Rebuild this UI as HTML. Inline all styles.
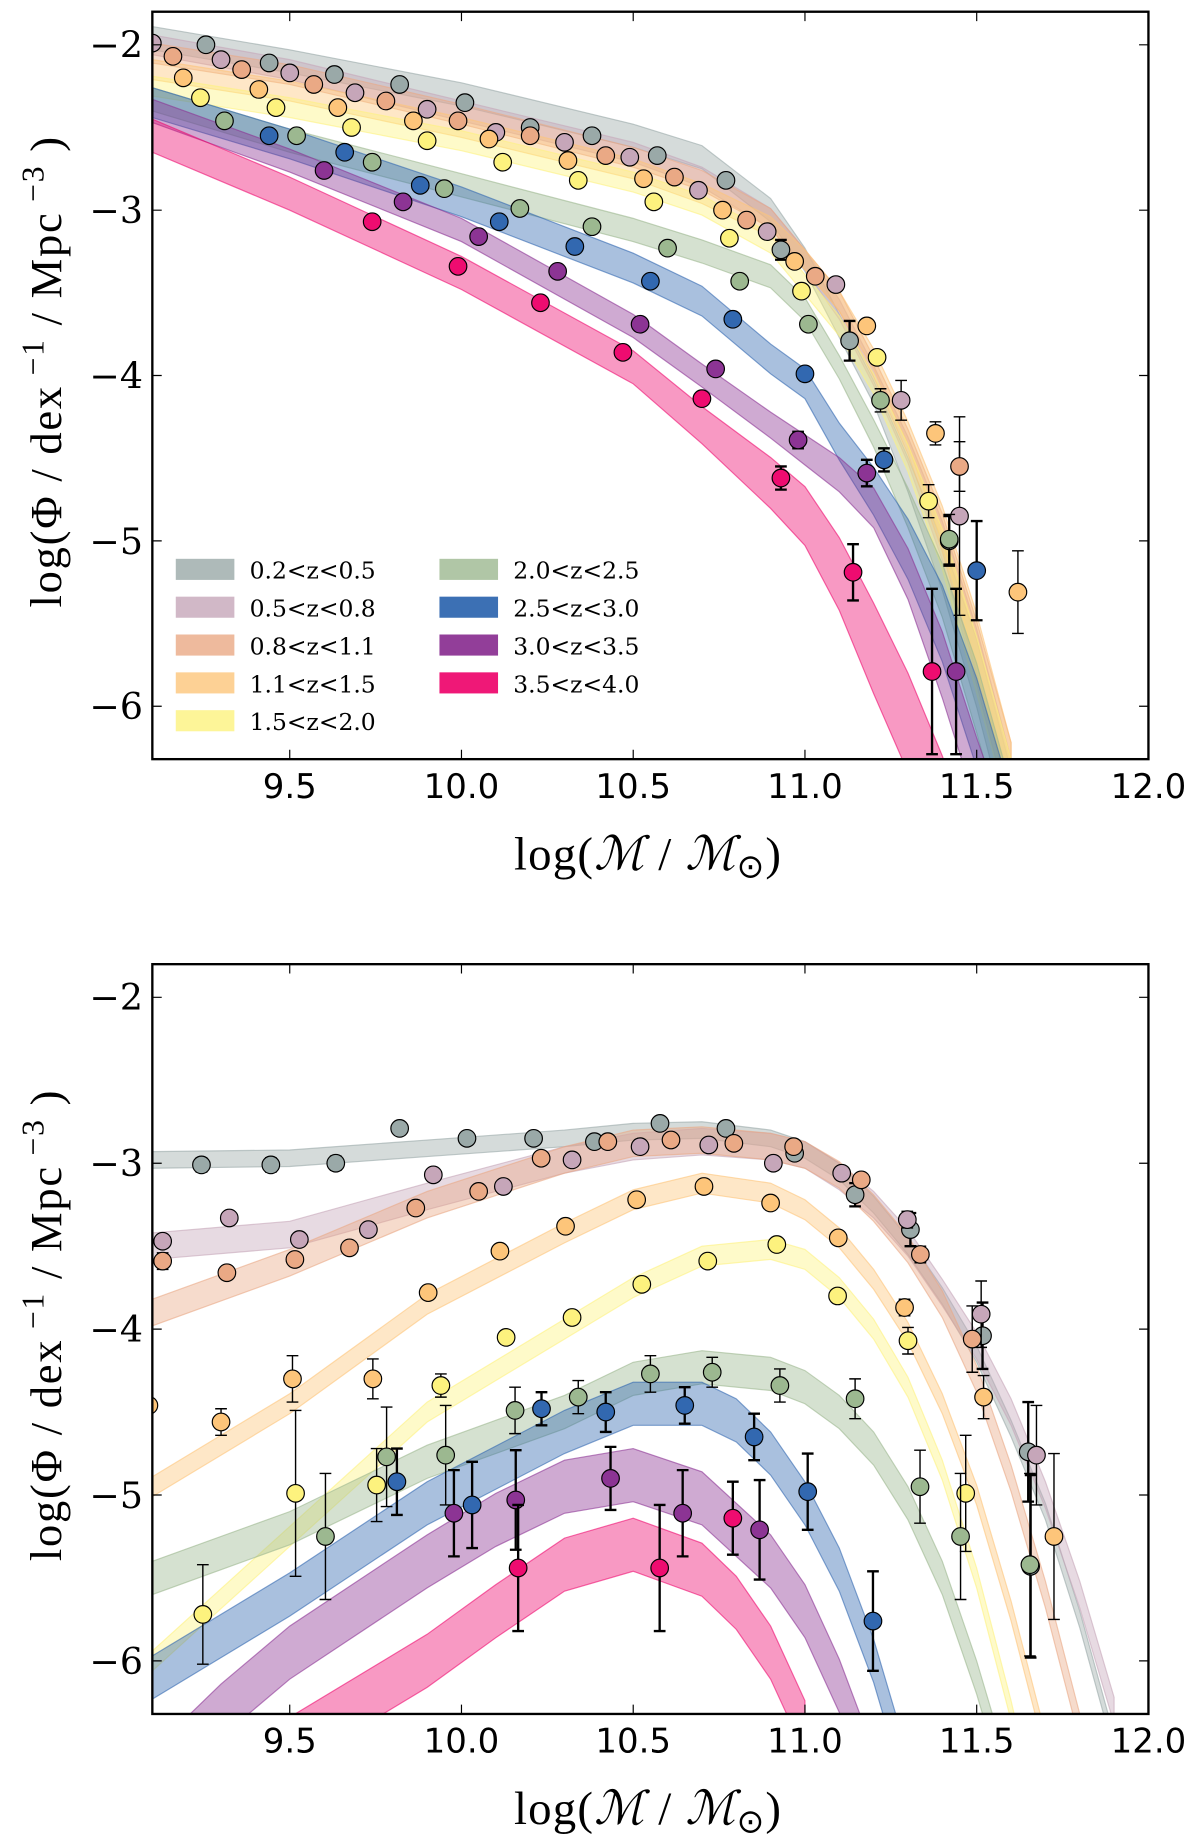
<!DOCTYPE html>
<html><head><meta charset="utf-8"><title>Stellar mass functions</title>
<style>html,body{margin:0;padding:0;background:#fff;}svg{display:block;}</style></head>
<body>
<svg id="fig" width="1200" height="1844" viewBox="0 0 1024 1574" preserveAspectRatio="none" xmlns="http://www.w3.org/2000/svg">
<defs>
<clipPath id="clipTop"><rect x="130" y="10" width="850" height="638"/></clipPath>
<clipPath id="clipBot"><rect x="130" y="823" width="850" height="640"/></clipPath>
</defs>
<g id="top"></g>
<g id="bot"></g>
</svg>
<script>
// ---------- shared ----------
const seriesLabels = ["0.2<z<0.5","0.5<z<0.8","0.8<z<1.1","1.1<z<1.5","1.5<z<2.0","2.0<z<2.5","2.5<z<3.0","3.0<z<3.5","3.5<z<4.0"];
const seriesColors = ["#9aa9a8","#c6a6b9","#eaa985","#fdc57a","#fdf27e","#9cb890","#3268b0","#8c3494","#ee0c70"];
const xTicks = [9.5,10.0,10.5,11.0,11.5,12.0];
const xTickLabels = ["9.5","10.0","10.5","11.0","11.5","12.0"];
const yTicks = [-2,-3,-4,-5,-6];
const yTickLabels = ["\u22122","\u22123","\u22124","\u22125","\u22126"];

// ---------- top panel data ----------
const topBandMass = [9.1,9.5,10.0,10.5,10.7,10.9,11.0,11.1,11.2,11.3,11.4,11.5,11.6];
const topBandMid = [
 [-1.96,-2.1,-2.3,-2.55,-2.68,-3.0,-3.3,-3.7,-4.1,-4.6,-5.15,-5.8,-6.6],
 [-2.0,-2.15,-2.4,-2.65,-2.8,-3.05,-3.3,-3.6,-4.0,-4.45,-5.0,-5.7,-6.5],
 [-2.05,-2.18,-2.42,-2.68,-2.82,-3.05,-3.3,-3.55,-3.95,-4.4,-4.95,-5.65,-6.4],
 [-2.15,-2.28,-2.5,-2.75,-2.9,-3.1,-3.3,-3.55,-3.9,-4.35,-4.9,-5.6,-6.4],
 [-2.25,-2.38,-2.58,-2.83,-2.97,-3.2,-3.45,-3.7,-4.05,-4.5,-5.05,-5.75,-6.5],
 [-2.33,-2.58,-2.85,-3.12,-3.25,-3.4,-3.6,-3.95,-4.35,-4.8,-5.3,-5.95,-6.7],
 [-2.35,-2.6,-2.95,-3.35,-3.55,-3.9,-4.05,-4.4,-4.7,-5.05,-5.5,-6.1,-6.8],
 [-2.4,-2.7,-3.12,-3.7,-4.0,-4.3,-4.45,-4.6,-4.8,-5.2,-5.75,-6.4,-7.0],
 [-2.55,-2.9,-3.38,-3.95,-4.3,-4.65,-4.85,-5.2,-5.65,-6.1,-6.6,-7.2,-7.8]];
const topBandHalf = [0.07,0.06,0.06,0.06,0.06,0.07,0.09,0.07,0.1];

const topPtsMass = [
 [9.256,9.44,9.63,9.82,10.01,10.2,10.38,10.57,10.77,10.93,11.13,11.42],
 [9.1,9.3,9.5,9.69,9.9,10.1,10.3,10.49,10.69,10.89,11.09,11.28,11.45],
 [9.16,9.36,9.57,9.78,9.99,10.2,10.42,10.62,10.83,11.03,11.45],
 [9.19,9.41,9.64,9.86,10.08,10.31,10.53,10.76,10.97,11.18,11.38,11.62],
 [9.24,9.46,9.68,9.9,10.12,10.34,10.56,10.78,10.99,11.21,11.36],
 [9.31,9.52,9.74,9.95,10.17,10.38,10.6,10.81,11.01,11.22,11.42],
 [9.44,9.66,9.88,10.11,10.33,10.55,10.79,11.0,11.23,11.5],
 [9.6,9.83,10.05,10.28,10.52,10.74,10.98,11.18,11.44],
 [9.74,9.99,10.23,10.47,10.7,10.93,11.14,11.37]];
const topPtsPhi = [
 [-2.0,-2.11,-2.18,-2.24,-2.35,-2.5,-2.55,-2.67,-2.82,-3.24,-3.79,-5.0],
 [-1.99,-2.09,-2.17,-2.29,-2.39,-2.53,-2.59,-2.68,-2.88,-3.13,-3.45,-4.15,-4.85],
 [-2.07,-2.15,-2.24,-2.34,-2.46,-2.55,-2.67,-2.8,-3.06,-3.4,-4.55],
 [-2.2,-2.27,-2.38,-2.46,-2.57,-2.7,-2.81,-3.0,-3.31,-3.7,-4.35,-5.31],
 [-2.32,-2.38,-2.5,-2.58,-2.71,-2.82,-2.95,-3.17,-3.49,-3.89,-4.76],
 [-2.46,-2.55,-2.71,-2.87,-2.99,-3.1,-3.23,-3.43,-3.69,-4.15,-4.99],
 [-2.55,-2.65,-2.85,-3.07,-3.22,-3.43,-3.66,-3.99,-4.51,-5.18],
 [-2.76,-2.95,-3.16,-3.37,-3.69,-3.96,-4.39,-4.59,-5.79],
 [-3.07,-3.34,-3.56,-3.86,-4.14,-4.62,-5.19,-5.79]];
const topPtsErr = [
 [0,0,0,0,0,0,0,0,0,0.06,0.12,0.15],
 [0,0,0,0,0,0,0,0,0,0,0.04,0.12,0.6],
 [0,0,0,0,0,0,0,0,0,0,0.15],
 [0,0,0,0,0,0,0,0,0,0,0.07,0.25],
 [0,0,0,0,0,0,0,0,0,0.04,0.1],
 [0,0,0,0,0,0,0,0,0,0.07,0.15],
 [0,0,0,0,0,0,0,0.03,0.07,0.3],
 [0,0,0,0,0,0.03,0.05,0.08,0.5],
 [0,0,0,0,0,0.07,0.17,0.5]];

// ---------- bottom panel data ----------
const botBandMass = [
 [9.1,9.5,9.9,10.3,10.5,10.7,10.9,11.0,11.1,11.2,11.3,11.4,11.5,11.6,11.7,11.8,11.9],
 [9.1,9.5,9.9,10.3,10.5,10.7,10.9,11.0,11.1,11.2,11.3,11.4,11.5,11.6,11.7,11.8,11.9],
 [9.1,9.5,9.9,10.3,10.5,10.7,10.9,11.0,11.1,11.2,11.3,11.4,11.5,11.6,11.7,11.8,11.9],
 [9.1,9.5,9.9,10.3,10.5,10.7,10.9,11.0,11.1,11.2,11.3,11.4,11.5,11.6,11.7,11.8],
 [9.1,9.5,9.9,10.3,10.5,10.7,10.9,11.0,11.1,11.2,11.3,11.4,11.5,11.6,11.7],
 [9.1,9.5,9.9,10.3,10.5,10.7,10.9,11.0,11.1,11.2,11.3,11.4,11.5,11.6],
 [9.1,9.5,9.9,10.3,10.5,10.7,10.8,10.9,11.0,11.1,11.2,11.3],
 [9.1,9.3,9.5,9.9,10.1,10.3,10.5,10.7,10.9,11.0,11.1,11.2],
 [9.3,9.5,9.9,10.1,10.3,10.5,10.7,10.8,10.9,11.0]];
const botBandMid = [
 [-2.98,-2.97,-2.91,-2.85,-2.81,-2.8,-2.85,-2.92,-3.05,-3.25,-3.5,-3.8,-4.15,-4.6,-5.1,-5.75,-6.5],
 [-3.5,-3.43,-3.2,-2.98,-2.9,-2.87,-2.9,-2.95,-3.08,-3.25,-3.48,-3.78,-4.1,-4.5,-5.0,-5.6,-6.3],
 [-3.9,-3.6,-3.25,-2.98,-2.88,-2.86,-2.9,-2.95,-3.07,-3.27,-3.52,-3.85,-4.3,-4.9,-5.6,-6.4,-7.2],
 [-4.95,-4.45,-3.85,-3.42,-3.22,-3.12,-3.18,-3.28,-3.45,-3.7,-4.02,-4.45,-5.0,-5.7,-6.5,-7.3],
 [-6.0,-5.25,-4.5,-4.0,-3.75,-3.56,-3.52,-3.58,-3.75,-4.0,-4.35,-4.85,-5.5,-6.3,-7.2],
 [-5.5,-5.2,-4.8,-4.5,-4.3,-4.23,-4.27,-4.35,-4.5,-4.72,-5.05,-5.5,-6.1,-6.8],
 [-6.1,-5.6,-5.05,-4.62,-4.45,-4.45,-4.55,-4.75,-5.05,-5.45,-6.0,-6.7],
 [-6.7,-6.3,-5.95,-5.4,-5.15,-4.95,-4.88,-5.02,-5.4,-5.7,-6.15,-6.7],
 [-6.8,-6.5,-6.0,-5.7,-5.42,-5.3,-5.45,-5.65,-5.95,-6.4]];
const botBandHalf = [0.05,0.08,0.08,0.06,0.06,0.1,0.13,0.16,0.16];

const botPtsMass = [
 [9.243,9.445,9.634,9.82,10.016,10.21,10.387,10.578,10.77,10.97,11.146,11.307,11.517,11.65,11.657],
 [9.13,9.324,9.528,9.729,9.918,10.122,10.322,10.52,10.72,10.908,11.107,11.298,11.513,11.674],
 [9.13,9.317,9.515,9.674,9.867,10.05,10.232,10.426,10.61,10.793,10.967,11.164,11.336,11.487],
 [9.09,9.3,9.508,9.742,9.903,10.112,10.303,10.51,10.706,10.9,11.097,11.29,11.52,11.725],
 [9.247,9.517,9.753,9.94,10.13,10.322,10.525,10.717,10.918,11.095,11.3,11.468],
 [9.604,9.782,9.954,10.156,10.34,10.55,10.73,10.927,11.146,11.335,11.453,11.655],
 [9.812,10.031,10.233,10.42,10.65,10.852,11.008,11.198],
 [9.978,10.158,10.434,10.644,10.868],
 [10.165,10.577,10.79]];
const botPtsPhi = [
 [-3.01,-3.01,-3.0,-2.79,-2.85,-2.85,-2.87,-2.76,-2.79,-2.94,-3.19,-3.4,-4.04,-4.74,-5.43],
 [-3.47,-3.33,-3.46,-3.4,-3.07,-3.14,-2.98,-2.9,-2.89,-3.0,-3.06,-3.34,-3.91,-4.76],
 [-3.59,-3.66,-3.58,-3.51,-3.27,-3.17,-2.97,-2.87,-2.86,-2.88,-2.9,-3.1,-3.55,-4.06],
 [-4.46,-4.56,-4.3,-4.3,-3.78,-3.53,-3.38,-3.22,-3.14,-3.24,-3.45,-3.87,-4.41,-5.25],
 [-5.72,-4.99,-4.94,-4.34,-4.05,-3.93,-3.73,-3.59,-3.49,-3.8,-4.07,-4.99],
 [-5.25,-4.77,-4.76,-4.49,-4.41,-4.27,-4.26,-4.34,-4.42,-4.95,-5.25,-5.42],
 [-4.92,-5.06,-4.48,-4.5,-4.46,-4.65,-4.98,-5.76],
 [-5.11,-5.03,-4.9,-5.11,-5.21],
 [-5.44,-5.44,-5.14]];
const botPtsErr = [
 [0.04,0.04,0.04,0,0.03,0,0,0,0,0.03,0.07,0.1,0.2,0.3,0.55],
 [0.04,0,0.04,0,0,0,0,0,0,0,0,0.05,0.2,0.3],
 [0.05,0.04,0.04,0.04,0.03,0,0,0,0,0,0,0,0.05,0.2],
 [0,0.08,0.14,0.12,0.04,0,0,0,0,0,0,0.05,0.13,0.5],
 [0.3,0.5,0.22,0.07,0.04,0.04,0,0,0,0,0.08,0.35],
 [0.38,0.3,0.3,0.14,0.1,0.11,0.09,0.1,0.12,0.22,0.38,0.55],
 [0.2,0.26,0.1,0.12,0.11,0.14,0.23,0.3],
 [0.26,0.3,0.19,0.26,0.3],
 [0.38,0.38,0.22]];

// ---------- drawing ----------
const NS = "http://www.w3.org/2000/svg";
const X0 = 130, X1 = 980, XMIN = 9.1, XMAX = 12.0;
function xScale(m){ return X0 + (m - XMIN) / (XMAX - XMIN) * (X1 - X0); }
function makeY(yTop, yBot){ const YMAX = -1.8, YMIN = -6.32; return v => yTop + (YMAX - v) / (YMAX - YMIN) * (yBot - yTop); }
function el(tag, attrs, parent){ const e = document.createElementNS(NS, tag); for (const k in attrs) e.setAttribute(k, attrs[k]); parent.appendChild(e); return e; }

function drawPanel(g, yTop, yBot, clipId, bandMassFn, bandMid, bandHalf, ptsMass, ptsPhi, ptsErr, widen){
  const yS = makeY(yTop, yBot);
  const bands = el('g', {'clip-path': 'url(#' + clipId + ')'}, g);
  
  
  for (let s = 0; s < bandMid.length; s++){
    const ms = bandMassFn(s), mid = bandMid[s], h = bandHalf[s];
    let up = [], lo = [];
    for (let i = 0; i < ms.length; i++){
      const hh = h * (widen && mid[i] < -4.2 ? 1 + Math.min(2, (-4.2 - mid[i]) * 1.2) : 1);
      up.push(xScale(ms[i]).toFixed(1) + ',' + yS(mid[i] + hh).toFixed(1));
      lo.unshift(xScale(ms[i]).toFixed(1) + ',' + yS(mid[i] - hh).toFixed(1));
    }
    const p = el('polygon', {points: up.concat(lo).join(' '), fill: seriesColors[s], 'fill-opacity': 0.42, stroke: seriesColors[s], 'stroke-opacity': 0.6, 'stroke-width': 1}, bands);
    
    
  }
  const pts = el('g', {'clip-path': 'url(#' + clipId + ')'}, g);
  
  
  for (let s = 0; s < ptsMass.length; s++){
    for (let i = 0; i < ptsMass[s].length; i++){
      const cx = xScale(ptsMass[s][i]), cy = yS(ptsPhi[s][i]), e = ptsErr[s][i];
      if (e > 0){
        const y1 = yS(ptsPhi[s][i] + e), y2 = yS(ptsPhi[s][i] - e);
        const sw = s >= 6 || s === 0 ? 2 : 1.2;
        const eb = el('path', {d: 'M' + cx + ',' + y1 + 'V' + y2 + 'M' + (cx - 5) + ',' + y1 + 'H' + (cx + 5) + 'M' + (cx - 5) + ',' + y2 + 'H' + (cx + 5), stroke: '#000', 'stroke-width': sw, fill: 'none'}, pts);
        
        
      }
      const c = el('circle', {cx: cx, cy: cy, r: 7.5, fill: seriesColors[s], stroke: '#000', 'stroke-width': 1}, pts);
      
      
    }
  }
  // frame & ticks
  const ax = el('g', {}, g);
  
  
  el('rect', {x: X0, y: yTop, width: X1 - X0, height: yBot - yTop, fill: 'none', stroke: '#000', 'stroke-width': 2}, ax);
  for (let i = 0; i < xTicks.length; i++){
    const x = xScale(xTicks[i]);
    el('path', {d: 'M' + x + ',' + yBot + 'v-8M' + x + ',' + yTop + 'v8', stroke: '#000', 'stroke-width': 1}, ax);
    const t = el('text', {x: x, y: yBot + 33, 'text-anchor': 'middle', 'font-family': 'DejaVu Sans, Liberation Sans, sans-serif', 'font-size': 29}, ax);
    t.textContent = xTickLabels[i];
    
    
  }
  for (let i = 0; i < yTicks.length; i++){
    const y = yS(yTicks[i]);
    el('path', {d: 'M' + X0 + ',' + y + 'h8M' + X1 + ',' + y + 'h-8', stroke: '#000', 'stroke-width': 1}, ax);
    const t = el('text', {x: 122, y: y + 11, 'text-anchor': 'end', 'font-family': 'DejaVu Serif, Liberation Serif, serif', 'font-size': 31}, ax);
    t.textContent = yTickLabels[i];
    
    
  }
  const xl = el('text', {x: 553, y: yBot + 94, 'text-anchor': 'middle', 'font-family': 'Liberation Serif, serif', 'font-size': 40, 'letter-spacing': 1}, ax);
  xl.innerHTML = 'log(<tspan font-style="italic">\u2133</tspan> / <tspan font-style="italic">\u2133</tspan><tspan font-size="28" dy="7">\u2299</tspan><tspan dy="-7">)</tspan>';
  
  
  const cy = (yTop + yBot) / 2;
  const yl = el('text', {x: 0, y: 0, transform: 'translate(52,' + (cy - 12) + ') rotate(-90)', 'text-anchor': 'middle', 'font-family': 'Liberation Serif, serif', 'font-size': 38, 'letter-spacing': 1.5}, ax);
  yl.innerHTML = 'log(\u03A6 / dex<tspan font-size="27" dy="-15"> \u22121</tspan><tspan dy="15"> / Mpc</tspan><tspan font-size="27" dy="-15"> \u22123</tspan><tspan dy="15"> )</tspan>';
  
  
}

const topG = document.getElementById('top');
const botG = document.getElementById('bot');
drawPanel(topG, 10, 648, 'clipTop', s => topBandMass, topBandMid, topBandHalf, topPtsMass, topPtsPhi, topPtsErr, true);
drawPanel(botG, 823, 1463, 'clipBot', s => botBandMass[s], botBandMid, botBandHalf, botPtsMass, botPtsPhi, botPtsErr, false);

// legend (top panel)
const leg = el('g', {}, topG);


for (let s = 0; s < seriesLabels.length; s++){
  const col = s < 5 ? 0 : 1, row = s < 5 ? s : s - 5;
  const lx = col === 0 ? 150 : 375, ly = 477 + row * 32.3;
  const sw = el('rect', {x: lx, y: ly, width: 50, height: 18, fill: seriesColors[s], 'fill-opacity': s >= 6 ? 0.95 : 0.8}, leg);
  
  
  const t = el('text', {x: lx + 63, y: ly + 17, 'font-family': 'DejaVu Serif, Liberation Serif, serif', 'font-size': 20}, leg);
  t.textContent = seriesLabels[s];
  
  
}
</script>
</body></html>
